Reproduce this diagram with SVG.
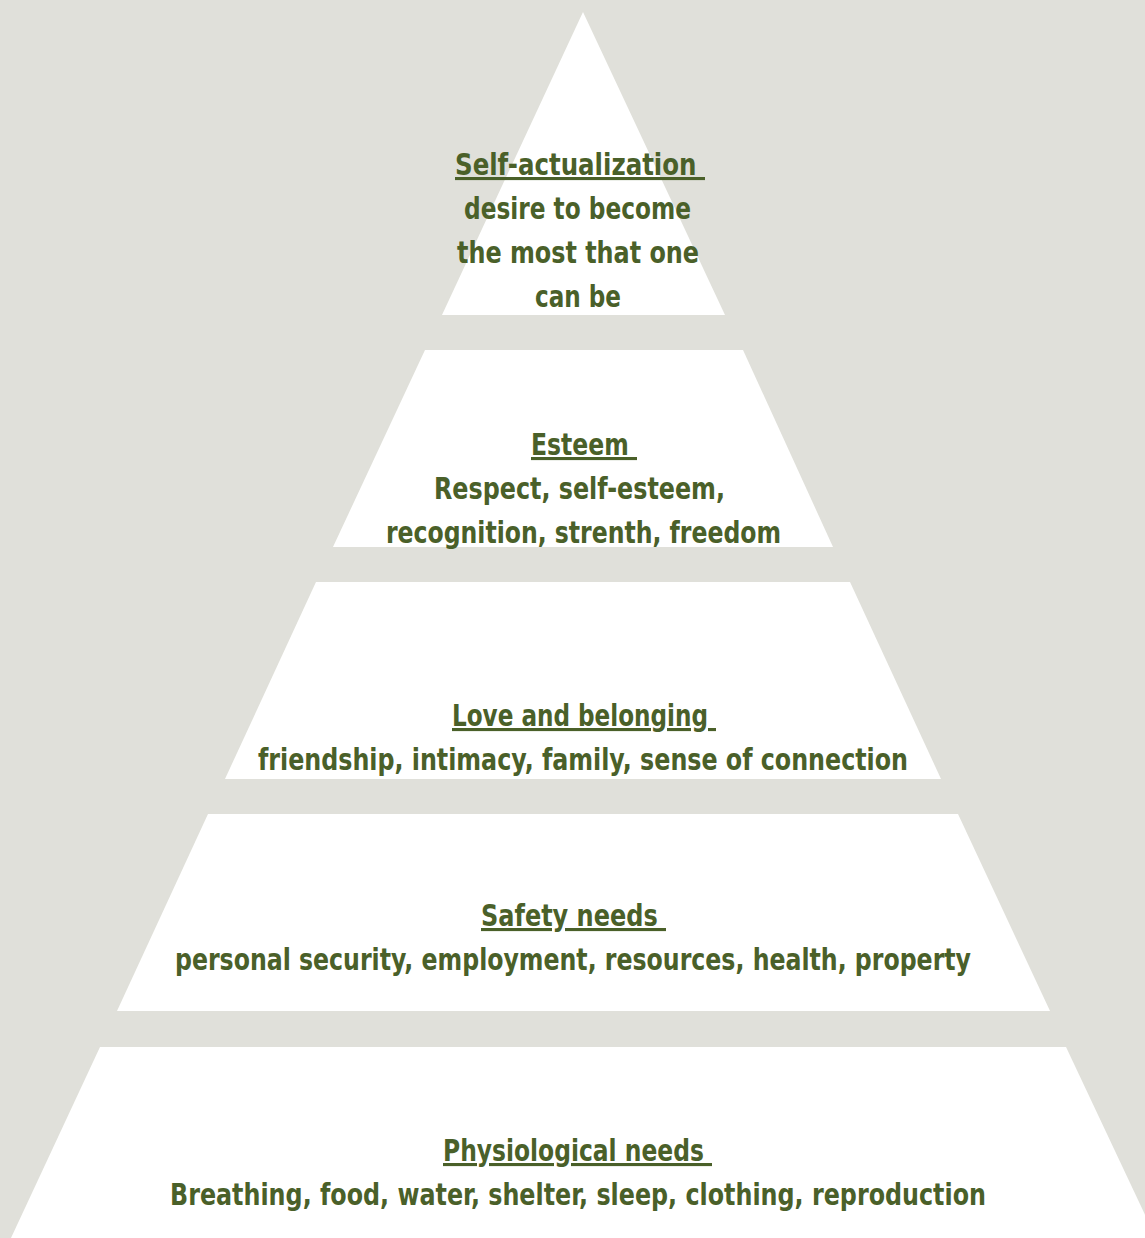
<svg xmlns="http://www.w3.org/2000/svg" width="1145" height="1238" viewBox="0 0 1145 1238">
  <style>
    .tier { fill: #ffffff; }
    .t { font-family: "DejaVu Sans", "Liberation Sans", sans-serif; font-stretch: condensed; font-weight: bold; font-size: 31px; fill: #4a6029; }
    .h { text-decoration: underline; white-space: pre; }
  </style>
  <rect x="0" y="0" width="1145" height="1238" fill="#e0e0da"/>

  <!-- Top: self-actualization -->
  <g id="self-actualization">
    <polygon class="tier" points="583,12 725,315 442,315"/>
    <text class="t h" x="455" y="175" textLength="250" lengthAdjust="spacingAndGlyphs" xml:space="preserve">Self-actualization </text>
    <text class="t" x="464" y="219" textLength="227" lengthAdjust="spacingAndGlyphs">desire to become</text>
    <text class="t" x="457" y="263" textLength="242" lengthAdjust="spacingAndGlyphs">the most that one</text>
    <text class="t" x="535" y="307" textLength="86" lengthAdjust="spacingAndGlyphs">can be</text>
  </g>

  <!-- Esteem -->
  <g id="esteem">
    <polygon class="tier" points="425,350 743,350 833,547 333,547"/>
    <text class="t h" x="531" y="455" textLength="106" lengthAdjust="spacingAndGlyphs" xml:space="preserve">Esteem </text>
    <text class="t" x="434" y="499" textLength="291" lengthAdjust="spacingAndGlyphs">Respect, self-esteem,</text>
    <text class="t" x="386" y="543" textLength="395" lengthAdjust="spacingAndGlyphs">recognition, strenth, freedom</text>
  </g>

  <!-- Love and belonging -->
  <g id="love-belonging">
    <polygon class="tier" points="316,582 850,582 941,779 225,779"/>
    <text class="t h" x="452" y="726" textLength="264" lengthAdjust="spacingAndGlyphs" xml:space="preserve">Love and belonging </text>
    <text class="t" x="258" y="770" textLength="650" lengthAdjust="spacingAndGlyphs">friendship, intimacy, family, sense of connection</text>
  </g>

  <!-- Safety needs -->
  <g id="safety">
    <polygon class="tier" points="208,814 958,814 1050,1011 117,1011"/>
    <text class="t h" x="481" y="926" textLength="185" lengthAdjust="spacingAndGlyphs" xml:space="preserve">Safety needs </text>
    <text class="t" x="175" y="970" textLength="796" lengthAdjust="spacingAndGlyphs">personal security, employment, resources, health, property</text>
  </g>

  <!-- Base: physiological needs -->
  <g id="physiological">
    <polygon class="tier" points="100,1047 1066,1047 1156,1238 11,1238"/>
    <text class="t h" x="443" y="1161" textLength="269" lengthAdjust="spacingAndGlyphs" xml:space="preserve">Physiological needs </text>
    <text class="t" x="170" y="1205" textLength="816" lengthAdjust="spacingAndGlyphs">Breathing, food, water, shelter, sleep, clothing, reproduction</text>
  </g>

  <g id="connectors"></g>
</svg>
